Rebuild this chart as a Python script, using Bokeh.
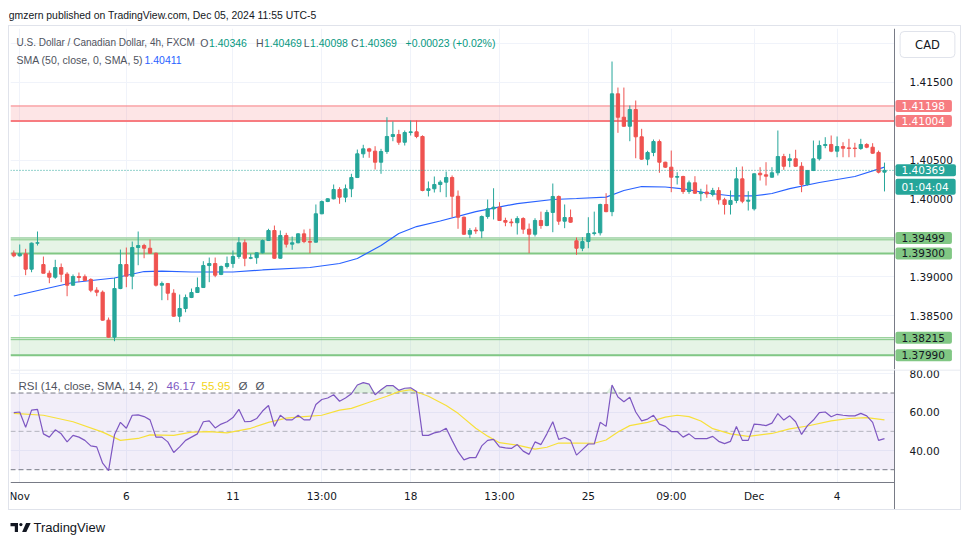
import numpy as np
from bokeh.plotting import figure
from bokeh.models import (ColumnDataSource, Range1d, FixedTicker, NumeralTickFormatter,
                          Grid, Span, BoxAnnotation, Label, LinearAxis)
from bokeh.layouts import column
from bokeh.core.properties import value
from bokeh.embed import file_html
from bokeh.resources import INLINE

# ---------------- data (USDCAD 4h, FXCM) ----------------
opens = [1.39303, 1.39269, 1.39295, 1.39097, 1.39432, 1.39157, 1.39045, 1.38994, 1.39119, 1.39033,
         1.38891, 1.39003, 1.39000, 1.38965, 1.38827, 1.38801, 1.38441, 1.38222, 1.38848, 1.39157,
         1.39007, 1.39376, 1.39402, 1.39367, 1.39303, 1.38891, 1.38913, 1.38788, 1.38492, 1.38591,
         1.38733, 1.38797, 1.38861, 1.39144, 1.39170, 1.39030, 1.39132, 1.39170, 1.39260, 1.39437,
         1.39238, 1.39245, 1.39308, 1.39466, 1.39595, 1.39238, 1.39531, 1.39419, 1.39437, 1.39552,
         1.39453, 1.39445, 1.39810, 1.39968, 1.40003, 1.40123, 1.40024, 1.40132, 1.40277, 1.40582,
         1.40646, 1.40616, 1.40474, 1.40612, 1.40805, 1.40830, 1.40731, 1.40856, 1.40865, 1.40805,
         1.40110, 1.40132, 1.40187, 1.40217, 1.40277, 1.40036, 1.39766, 1.39547, 1.39600, 1.39590,
         1.39775, 1.39874, 1.39895, 1.39724, 1.39705, 1.39695, 1.39749, 1.39612, 1.39547, 1.39724,
         1.39659, 1.39827, 1.40033, 1.39715, 1.39762, 1.39462, 1.39367, 1.39453, 1.39556, 1.39565,
         1.39930, 1.39838, 1.41354, 1.41053, 1.40937, 1.41152, 1.40801, 1.40513, 1.40599, 1.40740,
         1.40474, 1.40410, 1.40281, 1.40290, 1.40097, 1.40209, 1.40070, 1.40090, 1.40060, 1.40110,
         1.39990, 1.39930, 1.39981, 1.40260, 1.39972, 1.39874, 1.40332, 1.40312, 1.40281, 1.40338,
         1.40547, 1.40496, 1.40518, 1.40422, 1.40187, 1.40367, 1.40518, 1.40689, 1.40702, 1.40616,
         1.40676, 1.40658, 1.40656, 1.40650, 1.40702, 1.40667, 1.40600, 1.40346]
highs = [1.39338, 1.39415, 1.39359, 1.39440, 1.39582, 1.39260, 1.39080, 1.39218, 1.39170, 1.39058,
         1.39029, 1.39054, 1.39029, 1.38980, 1.38865, 1.38823, 1.38475, 1.38986, 1.39350, 1.39376,
         1.39453, 1.39582, 1.39424, 1.39479, 1.39310, 1.38939, 1.38920, 1.38839, 1.38771, 1.38771,
         1.38848, 1.38990, 1.39200, 1.39247, 1.39247, 1.39144, 1.39260, 1.39338, 1.39509, 1.39479,
         1.39295, 1.39312, 1.39479, 1.39617, 1.39659, 1.39595, 1.39565, 1.39518, 1.39560, 1.39608,
         1.39617, 1.39930, 1.39981, 1.40010, 1.40187, 1.40152, 1.40187, 1.40325, 1.40637, 1.40698,
         1.40659, 1.40680, 1.40646, 1.41053, 1.40998, 1.40891, 1.40882, 1.41011, 1.41011, 1.40820,
         1.40226, 1.40290, 1.40242, 1.40354, 1.40303, 1.40110, 1.39775, 1.39625, 1.39637, 1.39788,
         1.39994, 1.40139, 1.39959, 1.39760, 1.39746, 1.39779, 1.39766, 1.39685, 1.39753, 1.39838,
         1.39861, 1.40200, 1.40046, 1.39930, 1.39865, 1.39505, 1.39509, 1.39766, 1.39838, 1.39940,
         1.40075, 1.41770, 1.41435, 1.41435, 1.41204, 1.41268, 1.40904, 1.40621, 1.40766, 1.40766,
         1.40480, 1.40624, 1.40345, 1.40300, 1.40238, 1.40294, 1.40132, 1.40187, 1.40144, 1.40152,
         1.40016, 1.40110, 1.40410, 1.40419, 1.40101, 1.40330, 1.40410, 1.40474, 1.40410, 1.40882,
         1.40582, 1.40582, 1.40634, 1.40474, 1.40375, 1.40753, 1.40753, 1.40796, 1.40818, 1.40805,
         1.40731, 1.40775, 1.40724, 1.40775, 1.40719, 1.40719, 1.40624, 1.40469]
lows = [1.39251, 1.39260, 1.39020, 1.39058, 1.39402, 1.39045, 1.38917, 1.38973, 1.38930, 1.38749,
        1.38885, 1.38930, 1.38945, 1.38801, 1.38749, 1.38435, 1.38215, 1.38170, 1.38840, 1.38865,
        1.38839, 1.39148, 1.39238, 1.39295, 1.38874, 1.38698, 1.38698, 1.38485, 1.38415, 1.38543,
        1.38725, 1.38790, 1.38855, 1.38930, 1.38994, 1.39020, 1.39106, 1.39115, 1.39231, 1.39135,
        1.39226, 1.39166, 1.39300, 1.39460, 1.39232, 1.39232, 1.39376, 1.39347, 1.39430, 1.39432,
        1.39303, 1.39440, 1.39805, 1.39960, 1.39995, 1.39939, 1.39959, 1.40024, 1.40270, 1.40531,
        1.40531, 1.40380, 1.40325, 1.40582, 1.40744, 1.40698, 1.40689, 1.40818, 1.40783, 1.40100,
        1.40033, 1.40084, 1.40088, 1.40024, 1.39766, 1.39617, 1.39540, 1.39496, 1.39552, 1.39496,
        1.39746, 1.39737, 1.39718, 1.39650, 1.39646, 1.39543, 1.39552, 1.39303, 1.39518, 1.39617,
        1.39650, 1.39573, 1.39668, 1.39625, 1.39695, 1.39282, 1.39329, 1.39367, 1.39531, 1.39531,
        1.39830, 1.39779, 1.40852, 1.40930, 1.40744, 1.40525, 1.40505, 1.40435, 1.40551, 1.40338,
        1.40400, 1.40088, 1.40187, 1.40067, 1.40067, 1.40067, 1.39972, 1.40016, 1.40033, 1.39930,
        1.39801, 1.39801, 1.39946, 1.39946, 1.39852, 1.39852, 1.40238, 1.40174, 1.40275, 1.40303,
        1.40376, 1.40410, 1.40415, 1.40088, 1.40174, 1.40360, 1.40496, 1.40654, 1.40603, 1.40538,
        1.40538, 1.40538, 1.40538, 1.40634, 1.40654, 1.40582, 1.40330, 1.40098]
closes = [1.39269, 1.39295, 1.39097, 1.39432, 1.39437, 1.39045, 1.38994, 1.39119, 1.39033, 1.38891,
          1.39003, 1.38990, 1.38951, 1.38827, 1.38801, 1.38441, 1.38222, 1.38848, 1.39157, 1.39007,
          1.39376, 1.39402, 1.39367, 1.39303, 1.38891, 1.38913, 1.38788, 1.38492, 1.38591, 1.38733,
          1.38797, 1.38861, 1.39144, 1.39170, 1.39020, 1.39132, 1.39170, 1.39260, 1.39437, 1.39238,
          1.39245, 1.39308, 1.39466, 1.39595, 1.39238, 1.39531, 1.39419, 1.39437, 1.39552, 1.39453,
          1.39445, 1.39810, 1.39968, 1.40003, 1.40123, 1.40024, 1.40132, 1.40277, 1.40582, 1.40646,
          1.40616, 1.40474, 1.40612, 1.40805, 1.40830, 1.40731, 1.40856, 1.40865, 1.40805, 1.40110,
          1.40132, 1.40187, 1.40217, 1.40277, 1.40036, 1.39766, 1.39547, 1.39595, 1.39590, 1.39775,
          1.39874, 1.39895, 1.39724, 1.39702, 1.39695, 1.39749, 1.39612, 1.39547, 1.39724, 1.39659,
          1.39827, 1.40033, 1.39715, 1.39762, 1.39702, 1.39367, 1.39453, 1.39556, 1.39565, 1.39930,
          1.39838, 1.41354, 1.41053, 1.40937, 1.41152, 1.40801, 1.40513, 1.40599, 1.40740, 1.40474,
          1.40410, 1.40281, 1.40290, 1.40097, 1.40209, 1.40075, 1.40088, 1.40067, 1.40110, 1.39990,
          1.39930, 1.39981, 1.40260, 1.39972, 1.39985, 1.40325, 1.40312, 1.40294, 1.40338, 1.40547,
          1.40422, 1.40518, 1.40422, 1.40187, 1.40367, 1.40518, 1.40689, 1.40702, 1.40616, 1.40676,
          1.40654, 1.40652, 1.40650, 1.40702, 1.40667, 1.40590, 1.40346, 1.40369]

# SMA(50) line read at sample bars
sma_bar = [0, 10, 17, 22, 25, 30, 37, 42, 50, 55, 58, 62, 65, 68, 72, 78, 85, 91, 95, 100,
           103, 106, 110, 113, 117, 121, 125, 128, 131, 136, 142, 147]
sma_value = [1.38752, 1.38926, 1.38984, 1.39067, 1.39071, 1.39061, 1.39061, 1.39087, 1.39119, 1.39170,
             1.39235, 1.39402, 1.39556, 1.39646, 1.39717, 1.39839, 1.39942, 1.39994, 1.40007, 1.40024,
             1.40110, 1.40161, 1.40155, 1.40132, 1.40078, 1.40042, 1.40042, 1.40071, 1.40135, 1.40213,
             1.40290, 1.40411]

# RSI(14), one value per bar
rsi_value = [59.8, 60.1, 52.1, 61.1, 61.5, 48.7, 47.0, 50.8, 48.7, 44.5,
             47.9, 47.0, 45.3, 42.4, 41.9, 33.4, 29.5, 48.2, 54.7, 51.6,
             58.4, 58.6, 57.7, 56.0, 47.0, 47.0, 44.5, 39.0, 41.9, 45.3,
             47.0, 48.7, 55.0, 55.5, 51.8, 53.8, 55.0, 57.2, 61.5, 55.0,
             55.2, 56.7, 60.6, 63.5, 52.6, 58.4, 56.0, 56.0, 58.4, 56.0,
             56.0, 64.0, 66.6, 67.4, 69.1, 65.7, 67.4, 69.6, 74.2, 75.4,
             74.6, 69.1, 71.7, 73.9, 73.9, 71.4, 72.5, 72.7, 70.8, 47.9,
             47.9, 49.2, 49.9, 51.6, 45.3, 39.4, 35.1, 36.3, 36.3, 42.4,
             45.3, 45.8, 41.9, 41.4, 41.1, 43.1, 39.7, 38.0, 44.5, 43.1,
             48.7, 55.0, 45.8, 46.8, 45.3, 37.6, 40.5, 43.4, 43.4, 54.7,
             52.6, 74.2, 67.9, 65.4, 67.8, 60.1, 55.5, 56.4, 58.4, 53.8,
             52.6, 49.9, 49.9, 47.0, 48.7, 46.2, 46.2, 46.2, 47.4, 44.8,
             43.6, 44.8, 52.5, 45.3, 45.3, 53.8, 53.5, 53.0, 54.3, 59.3,
             55.9, 58.1, 55.0, 48.4, 53.0, 55.9, 59.8, 60.1, 57.6, 58.9,
             58.4, 58.1, 58.1, 59.4, 58.1, 54.7, 45.3, 46.17]

# RSI-based MA(14) read at sample bars
rsi_ma_bar = [0, 5, 10, 15, 18, 21, 23, 27, 30, 33, 36, 40, 43, 46, 49, 52, 55, 57, 60, 63,
              65, 67, 70, 73, 75, 78, 80, 82, 85, 88, 90, 92, 95, 98, 100, 102, 104, 107, 110, 112,
              114, 116, 118, 121, 124, 128, 131, 134, 138, 141, 144, 147]
rsi_ma_value = [59.4, 58.4, 55.0, 49.6, 45.3, 46.3, 48.2, 47.9, 49.6, 49.9, 49.2, 51.6, 54.7, 56.9,
                57.7, 58.4, 61.1, 62.0, 65.2, 68.3, 70.7, 71.7, 68.3, 63.5, 59.4, 51.6, 47.5, 44.1,
                42.8, 40.7, 41.7, 43.9, 43.9, 43.8, 45.5, 49.7, 53.0, 54.7, 57.4, 58.4, 57.7, 55.4,
                51.4, 48.7, 47.4, 48.9, 51.3, 52.8, 55.5, 56.7, 57.2, 55.95]

x_tick_bars = [1, 19, 37, 52, 67, 82, 97, 111, 125, 139]
x_tick_labels = ["Nov", "6", "11", "13:00", "18", "13:00", "25", "09:00", "Dec", "4"]
price_ticks = [1.385, 1.39, 1.40, 1.405, 1.415]
price_grid = [1.38, 1.385, 1.39, 1.395, 1.40, 1.405, 1.41, 1.415, 1.42]
rsi_ticks = [40, 60, 80]
rsi_grid = [40, 60, 80]

red_zone = [1.41004, 1.41198]
green_zones = [[1.39300, 1.39499], [1.37990, 1.38215]]
zone_thin_red = [1.41198]
zone_thick_red = [1.41004]
zone_thin_green = [1.39499, 1.39475, 1.38215, 1.38190]
zone_thick_green = [1.39300, 1.37990]
countdown = "01:04:04"

# ---------------- styling / layout constants ----------------
GREEN, RED = "#26a69a", "#ef5350"
TXT = "#131722"
GRAY_TXT = "#50535e"
GRID = "#f0f3fa"
AXIS = "#787b86"
UI_FONT = "Liberation Sans"
AX_FONT = "DejaVu Sans"

X0, X1 = -0.557, 148.69          # x-range of the candle area (frame px 10..894)
Y0, Y1 = 1.37806, 1.42195        # price pane (page y 28..369)
R0, R1 = 23.32, 82.27            # RSI pane (page y 369..482)
FRAME_W, PRICE_H, RSI_H = 884, 341, 113
PX = FRAME_W / (X1 - X0)
X1E = X0 + 950 / PX              # frame also covers the price-axis column
PPY = PRICE_H / (Y1 - Y0)
RPPY = RSI_H / (R1 - R0)
R0E = R0 - 27 / RPPY             # RSI frame also covers the time-axis row


def dx(page_x):
    return X0 + (page_x - 10) / PX


def dy(page_y):
    return Y1 - (page_y - 28) / PPY


def ry(page_y):
    return R1 - (page_y - 369) / RPPY


def put_text(fig, x, y, s, color, size="11px", font=UI_FONT, align="left", style="normal"):
    fig.text(x=[x], y=[y], text=[s], text_color=color, text_font=value(font),
             text_font_size=size, text_align=align, text_baseline="middle",
             text_font_style=style)


def hlines(fig, ys, color, width, dash="solid", alpha=1.0):
    n = len(ys)
    fig.segment(x0=[X0] * n, x1=[X1] * n, y0=ys, y1=ys, line_color=color,
                line_width=width, line_dash=dash, line_alpha=alpha)


def style_axis(a):
    a.major_tick_line_color = None
    a.minor_tick_line_color = None
    a.axis_line_color = AXIS
    a.major_label_text_font = AX_FONT
    a.major_label_text_font_size = "10.5px"
    a.major_label_text_color = TXT


def bare_figure(**kw):
    f = figure(toolbar_location=None, output_backend="svg", x_axis_location=None,
               y_axis_location=None, outline_line_color=None, **kw)
    f.center = []          # drop the default grids; own grids are added explicitly
    return f


bars = np.arange(len(closes))
o, h, l, c = (np.array(a) for a in (opens, highs, lows, closes))
up = c >= o
csrc = ColumnDataSource(dict(x=bars, h=h, l=l, top=np.maximum(o, c), bottom=np.minimum(o, c),
                             color=[GREEN if u else RED for u in up]))

# ---------------- header ----------------
hdr = bare_figure(width=953, height=17, x_range=Range1d(0, 953), y_range=Range1d(0, 17), min_border=0)
put_text(hdr, 0.3, 10, "gmzern published on TradingView.com, Dec 05, 2024 11:55 UTC-5", TXT, "10.4px")

# ---------------- price pane ----------------
xr = Range1d(X0, X1E)
p = bare_figure(width=951, height=343, x_range=xr, y_range=Range1d(Y0, Y1),
                min_border_left=1, min_border_right=0, min_border_top=2, min_border_bottom=0)
ax = LinearAxis(fixed_location=X1, ticker=FixedTicker(ticks=price_ticks),
                formatter=NumeralTickFormatter(format="0.00000"), major_label_standoff=9)
style_axis(ax)
p.add_layout(ax, "right")
p.add_layout(Grid(dimension=1, ticker=FixedTicker(ticks=price_grid), cross_bounds=(X0, X1),
                  grid_line_color=GRID))
p.add_layout(Grid(dimension=0, ticker=FixedTicker(ticks=x_tick_bars), grid_line_color=GRID))

p.add_layout(BoxAnnotation(left=X0, right=X1, bottom=red_zone[0], top=red_zone[1],
                           fill_color="#f77c80", fill_alpha=0.2, line_color=None, level="underlay"))
for gz in green_zones:
    p.add_layout(BoxAnnotation(left=X0, right=X1, bottom=gz[0], top=gz[1], fill_color="#81c784",
                               fill_alpha=0.2, line_color=None, level="underlay"))
hlines(p, zone_thin_red, "#f77c80", 1)
hlines(p, zone_thick_red, "#f77c80", 2)
hlines(p, zone_thin_green, "#81c784", 1)
hlines(p, zone_thick_green, "#81c784", 2)

p.line(sma_bar, sma_value, line_color="#2962ff", line_width=1.2)
p.segment(x0="x", y0="l", x1="x", y1="h", line_color="color", line_width=1, source=csrc)
p.vbar(x="x", top="top", bottom="bottom", width=0.55, fill_color="color", line_color="color",
       line_width=1, source=csrc)
hlines(p, [closes[-1]], GREEN, 1, dash="1 2")

# legend
L1, L2 = dy(42), dy(59)
put_text(p, dx(16), L1, "U.S. Dollar / Canadian Dollar, 4h, FXCM", GRAY_TXT, "10px")
chg = closes[-1] - closes[-2]
pieces = [("O", 208.5, f"{opens[-1]:.5f}"), ("H", 263.5, f"{highs[-1]:.5f}"),
          ("L", 309.5, f"{lows[-1]:.5f}"), ("C", 358.5, f"{closes[-1]:.5f}")]
for letter, px_, val in pieces:
    put_text(p, dx(px_ - 0.5), L1, letter, GRAY_TXT, "10.5px", align="right")
    put_text(p, dx(px_), L1, val, "#089981", "10.5px")
put_text(p, dx(405), L1, f"{chg:+.5f} ({chg / closes[-2] * 100:+.2f}%)", "#089981", "10.5px")
put_text(p, dx(16), L2, "SMA (50, close, 0, SMA, 5)", GRAY_TXT, "10.5px")
put_text(p, dx(144), L2, f"{sma_value[-1]:.5f}", "#2962ff", "10.5px")

# price tags on the axis
tags = [(red_zone[1], f"{red_zone[1]:.5f}", "#f77c80", "white", 0, 7),
        (red_zone[0], f"{red_zone[0]:.5f}", "#f77c80", "white", 0, 7),
        (closes[-1], f"{closes[-1]:.5f}", GREEN, "white", 0, 11),
        (closes[-1], countdown, GREEN, "white", -16.3, 7),
        (green_zones[0][1], f"{green_zones[0][1]:.5f}", "#81c784", TXT, 0, 7),
        (green_zones[0][0], f"{green_zones[0][0]:.5f}", "#81c784", TXT, 0, 7),
        (green_zones[1][1], f"{green_zones[1][1]:.5f}", "#81c784", TXT, 0, 7),
        (green_zones[1][0], f"{green_zones[1][0]:.5f}", "#81c784", TXT, 0, 7)]
for yv, s, bg, fg, yoff, rpad in tags:
    p.add_layout(Label(x=X1, y=yv, x_offset=1, y_offset=yoff, text=s, text_align="left",
                       text_baseline="middle", text_font=AX_FONT, text_font_size="10.5px",
                       text_color=fg, background_fill_color=bg, border_radius=2,
                       padding=dict(left=6, right=rpad, top=2, bottom=2)))
p.add_layout(Label(x=X1, y=Y1, x_offset=33, y_offset=-16, text="CAD", text_align="center",
                   text_baseline="middle", text_font=AX_FONT, text_font_size="11.5px",
                   text_color=TXT, background_fill_color="white", border_line_color="#e0e3eb",
                   border_radius=4, padding=dict(left=15, right=15, top=6, bottom=6)))

# ---------------- RSI pane (+ time axis row) ----------------
r = bare_figure(width=951, height=140, x_range=xr, y_range=Range1d(R0E, R1),
                min_border_left=1, min_border_right=0, min_border_top=0, min_border_bottom=0)
ra = LinearAxis(fixed_location=X1, ticker=FixedTicker(ticks=rsi_ticks),
                formatter=NumeralTickFormatter(format="0.00"), major_label_standoff=9)
style_axis(ra)
r.add_layout(ra, "right")
xa = LinearAxis(fixed_location=R0, ticker=FixedTicker(ticks=x_tick_bars), bounds=(X0, X1),
                major_label_standoff=1,
                major_label_overrides={b: s for b, s in zip(x_tick_bars, x_tick_labels)})
style_axis(xa)
r.add_layout(xa, "below")
r.add_layout(Grid(dimension=0, ticker=FixedTicker(ticks=x_tick_bars), cross_bounds=(R0, R1),
                  grid_line_color=GRID))
r.add_layout(Grid(dimension=1, ticker=FixedTicker(ticks=rsi_grid), cross_bounds=(X0, X1),
                  grid_line_color=GRID))

r.add_layout(BoxAnnotation(left=X0, right=X1, bottom=30, top=70, fill_color="#7e57c2",
                           fill_alpha=0.1, line_color=None, level="underlay"))
r.add_layout(Span(location=R1 - 0.5 / RPPY, dimension="width", line_color="#e0e3eb", line_width=1))
hlines(r, [70, 30], AXIS, 1, dash="5 3")
hlines(r, [50], AXIS, 1, dash="5 3", alpha=0.5)
rsi_arr = np.array(rsi_value)
r.varea(x=bars, y1=np.full(len(bars), 70.0), y2=np.maximum(rsi_arr, 70.0),
        fill_color="#66bb6a", fill_alpha=0.2)
r.line(rsi_ma_bar, rsi_ma_value, line_color="#f7e03a", line_width=1.2)
r.line(bars, rsi_value, line_color="#7e57c2", line_width=1.2)

RL = ry(385.5)
put_text(r, dx(18), RL, "RSI (14, close, SMA, 14, 2)", GRAY_TXT, "11.5px")
put_text(r, dx(166), RL, f"{rsi_value[-1]:.2f}", "#7e57c2", "11.5px")
put_text(r, dx(201), RL, f"{rsi_ma_value[-1]:.2f}", "#f2d417", "11.5px")
put_text(r, dx(238), RL, "Ø", GRAY_TXT, "11.5px")
put_text(r, dx(255), RL, "Ø", GRAY_TXT, "11.5px")

# ---------------- footer ----------------
ftr = bare_figure(width=953, height=27, x_range=Range1d(0, 953), y_range=Range1d(0, 27), min_border=0)
ftr.quad(left=[2, 6.3], right=[9.5, 9.5], top=[14.5, 14.5], bottom=[11.3, 5.5],
         fill_color=TXT, line_color=None)
ftr.circle(x=[12.4], y=[12.9], radius=1.6, fill_color=TXT, line_color=None)
ftr.patch(x=[17.6, 22.2, 17.8, 13.6], y=[14.5, 14.5, 5.5, 5.5], fill_color=TXT, line_color=None)
put_text(ftr, 25, 10, "TradingView", TXT, "13px")

chart = column(p, r, styles={"border": "1px solid #e0e3eb"})
layout = column(hdr, chart, ftr, margin=(8, 0, 0, 8))

open("out.html", "w").write(file_html(layout, INLINE))
